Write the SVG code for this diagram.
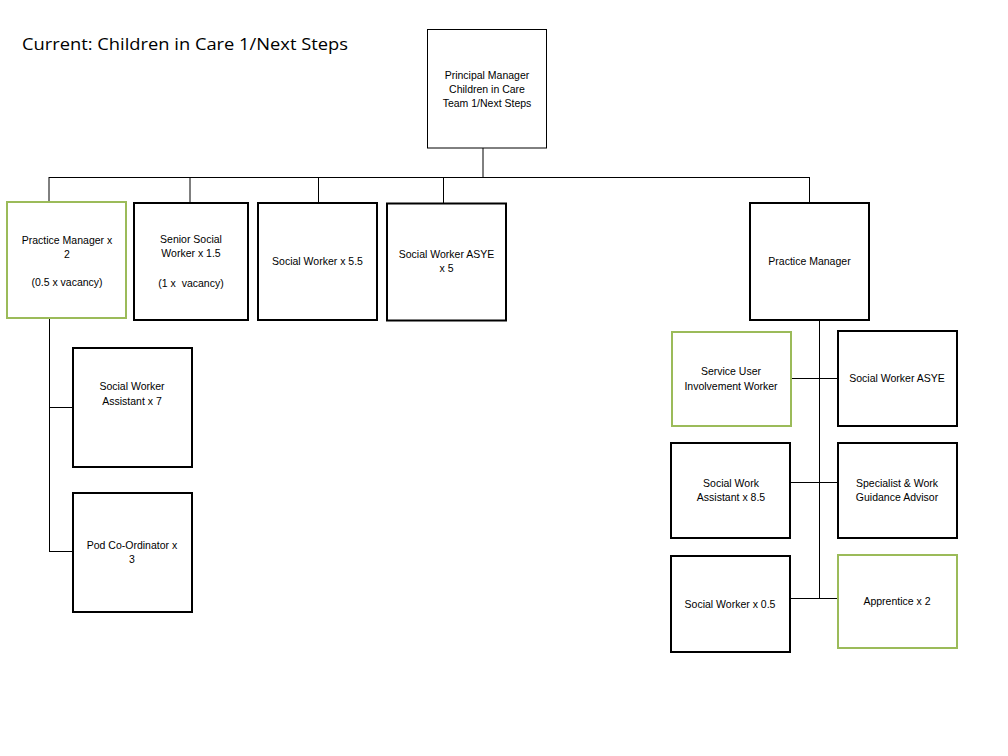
<svg xmlns="http://www.w3.org/2000/svg" width="1008" height="756" viewBox="0 0 1008 756">
<style>
.box{fill:#fff;stroke:#000;stroke-width:2}
.thin{fill:#fff;stroke:#000;stroke-width:1}
.green{fill:#fff;stroke:#9bbb59;stroke-width:2}
.t{font-family:"Liberation Sans",Arial,sans-serif;font-size:10.5px;fill:#000;text-anchor:middle;white-space:pre}
.title{font-family:"Open Sans","Liberation Sans",sans-serif;font-size:17px;fill:#000}
#connectors line{stroke:#000;stroke-width:1}
</style>
<rect width="1008" height="756" fill="#fff"/>
<text class="title" x="22" y="50" textLength="326" lengthAdjust="spacingAndGlyphs">Current: Children in Care 1/Next Steps</text>
<g id="connectors">
<line x1="483" y1="148" x2="483" y2="177.5"/>
<line x1="49" y1="177.5" x2="809.5" y2="177.5"/>
<line x1="49" y1="177" x2="49" y2="202"/>
<line x1="190" y1="177" x2="190" y2="202"/>
<line x1="318.5" y1="177" x2="318.5" y2="203"/>
<line x1="443.5" y1="177" x2="443.5" y2="203"/>
<line x1="809.5" y1="177" x2="809.5" y2="202"/>
<line x1="49.5" y1="318" x2="49.5" y2="552"/>
<line x1="49" y1="407.5" x2="72" y2="407.5"/>
<line x1="49" y1="551.5" x2="72" y2="551.5"/>
<line x1="819.5" y1="320" x2="819.5" y2="598.5"/>
<line x1="791" y1="378.5" x2="838" y2="378.5"/>
<line x1="790" y1="482.5" x2="838" y2="482.5"/>
<line x1="790" y1="598.5" x2="838" y2="598.5"/>
</g>
<g id="principal">
<rect class="thin" x="427.5" y="29.5" width="119" height="118.5"/>
<text class="t" x="487" y="79">Principal Manager</text>
<text class="t" x="487" y="93">Children in Care</text>
<text class="t" x="487" y="107">Team 1/Next Steps</text>
</g>
<g id="pm2">
<rect class="green" x="7" y="202" width="119" height="116"/>
<text class="t" x="67" y="244">Practice Manager x</text>
<text class="t" x="67" y="258">2</text>
<text class="t" x="67" y="286">(0.5 x vacancy)</text>
</g>
<g id="ssw">
<rect class="box" x="134" y="203" width="114" height="117"/>
<text class="t" x="191" y="243">Senior Social</text>
<text class="t" x="191" y="257">Worker x 1.5</text>
<text class="t" x="191" y="287" xml:space="preserve">(1 x  vacancy)</text>
</g>
<g id="sw55">
<rect class="box" x="258" y="203" width="119" height="117"/>
<text class="t" x="317.5" y="265">Social Worker x 5.5</text>
</g>
<g id="swasye5">
<rect class="box" x="387" y="203.5" width="119" height="117"/>
<text class="t" x="446.5" y="258">Social Worker ASYE</text>
<text class="t" x="446.5" y="272">x 5</text>
</g>
<g id="pm">
<rect class="box" x="750" y="203" width="119" height="117"/>
<text class="t" x="809.5" y="265">Practice Manager</text>
</g>
<g id="swa7">
<rect class="box" x="73" y="348" width="119" height="119"/>
<text class="t" x="132" y="390">Social Worker</text>
<text class="t" x="132" y="405">Assistant x 7</text>
</g>
<g id="pod">
<rect class="box" x="73" y="493" width="119" height="119"/>
<text class="t" x="132" y="549">Pod Co-Ordinator x</text>
<text class="t" x="132" y="563">3</text>
</g>
<g id="suiw">
<rect class="green" x="672" y="332" width="119" height="94"/>
<text class="t" x="731" y="375">Service User</text>
<text class="t" x="731" y="390">Involvement Worker</text>
</g>
<g id="swasye">
<rect class="box" x="838" y="331" width="119" height="95"/>
<text class="t" x="897" y="382">Social Worker ASYE</text>
</g>
<g id="swa85">
<rect class="box" x="671" y="443" width="119" height="95"/>
<text class="t" x="731" y="487">Social Work</text>
<text class="t" x="731" y="501">Assistant x 8.5</text>
</g>
<g id="specialist">
<rect class="box" x="838" y="443" width="119" height="95"/>
<text class="t" x="897" y="487">Specialist &amp; Work</text>
<text class="t" x="897" y="501">Guidance Advisor</text>
</g>
<g id="sw05">
<rect class="box" x="671" y="556" width="119" height="96"/>
<text class="t" x="730" y="608">Social Worker x 0.5</text>
</g>
<g id="apprentice">
<rect class="green" x="838" y="555" width="119" height="93"/>
<text class="t" x="897" y="605">Apprentice x 2</text>
</g>
</svg>
